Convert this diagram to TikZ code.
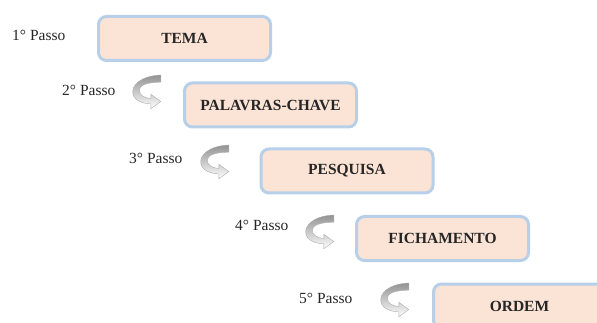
\documentclass[tikz,border=0pt]{standalone}
\usepackage{fontspec}
\setmainfont{Liberation Serif}
\usetikzlibrary{positioning}
\definecolor{boxfill}{RGB}{251,228,214}
\definecolor{boxline}{RGB}{183,207,232}
\tikzset{
    step box/.style = {
        draw = boxline,
        fill = boxfill,
        line width = 3pt,
        rounded corners = 8pt,
        minimum width = 172pt,
        minimum height = 44pt,
        font = \fontsize{15.5}{18}\selectfont\bfseries,
        text = black!85,
        },
    step label/.style = {
        anchor = base west,
        inner sep = 0pt,
        font = \fontsize{15.5}{18}\selectfont,
        text = black!85,
        },
    turn arrow/.pic = {
        \shade[top color=gray!85, bottom color=white, draw=gray!65, line width=0.4pt, scale=0.9]
            (32,0) .. controls (9,1) and (-1,12) .. (1,21)
            .. controls (3,29) and (13,32) .. (21,32)
            -- (21,37.5) -- (32,29.5) -- (21,21.5) -- (21,26)
            .. controls (14,26) and (8,22) .. (8,17)
            .. controls (8,11) and (18,8) .. (32,8) -- cycle;
        },
}
\begin{document}
\begin{tikzpicture}[x=1pt, y=-1pt]
    \clip (0,0) rectangle (597,323);
    \useasboundingbox (0,0) rectangle (597,323);

    % boxes
    \node [step box] (tema) at (184.5,38.5) {TEMA};
    \node [step box] (chave) at (270.5,105) {PALAVRAS-CHAVE};
    \node [step box] (pesquisa) at (347,171) {PESQUISA};
    \node [step box] (ficha) at (442.5,238.5) {FICHAMENTO};
    \node [step box] (ordem) at (519.5,306) {ORDEM};

    % labels
    \node [step label] (passo1) at (12,41) {1° Passo};
    \node [step label] (passo2) at (62,96) {2° Passo};
    \node [step label] (passo3) at (129,164) {3° Passo};
    \node [step label] (passo4) at (235,231) {4° Passo};
    \node [step label] (passo5) at (299,303) {5° Passo};

    % turn arrows
    \pic at (132,75) {turn arrow};
    \pic at (200,145) {turn arrow};
    \pic at (305,215) {turn arrow};
    \pic at (380,283) {turn arrow};
\end{tikzpicture}
\end{document}
